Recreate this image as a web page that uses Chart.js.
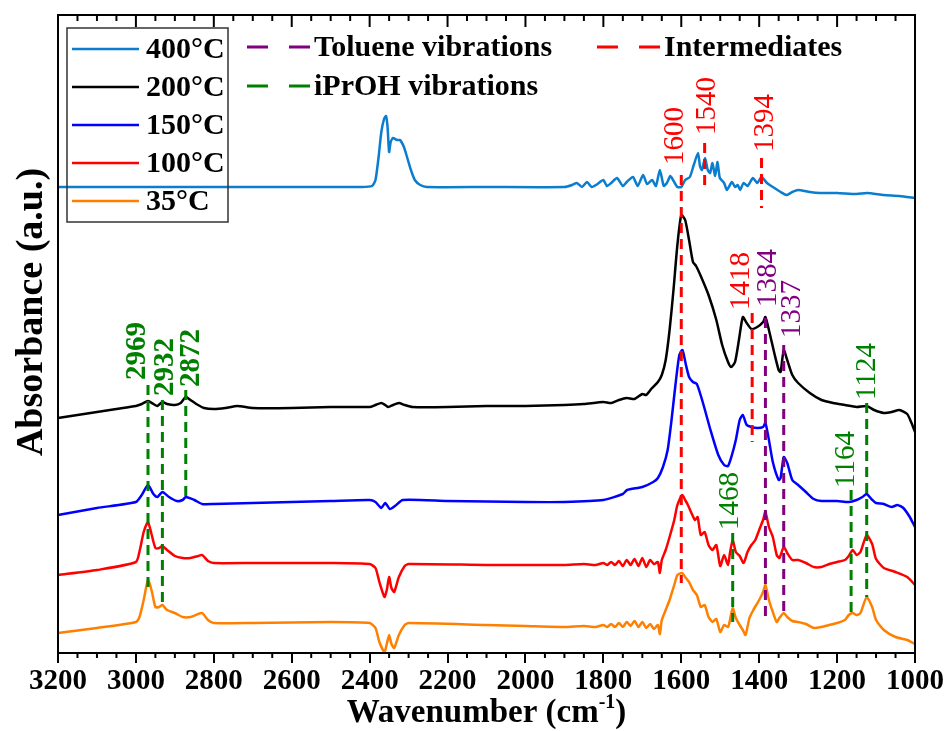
<!DOCTYPE html>
<html>
<head>
<meta charset="utf-8">
<script src="https://cdn.jsdelivr.net/npm/chart.js@4.4.1/dist/chart.umd.min.js"></script>
<style>
  html, body { margin: 0; padding: 0; background: #fff; }
  #c { display: block; }
</style>
</head>
<body>
<canvas id="c" width="950" height="731"></canvas>
<script>
// FTIR spectra, offset stacked (absorbance in arbitrary units)
var labels = ['400°C', '200°C', '150°C', '100°C', '35°C'];
var colors = ['#0b7dcf', '#000000', '#0000ff', '#ff0000', '#ff8000'];

var wn400 = [3200, 2800, 2420, 2394, 2385, 2377, 2370, 2363, 2358, 2354, 2350, 2346, 2340, 2330, 2322, 2312, 2304, 2294, 2284, 2270, 2253, 2100, 1900, 1880, 1868, 1855, 1842, 1830, 1815, 1800, 1791, 1780, 1765, 1750, 1740, 1724, 1712, 1698, 1688, 1675, 1665, 1655, 1645, 1637, 1628, 1621, 1610, 1600, 1590, 1578, 1568, 1557, 1552, 1547, 1539, 1532, 1526, 1520, 1513, 1507, 1501, 1490, 1483, 1470, 1462, 1455, 1449, 1440, 1430, 1416, 1405, 1394, 1380, 1365, 1345, 1329, 1315, 1300, 1270, 1244, 1200, 1150, 1123, 1080, 1040, 1000];
var ab400 = [465, 465, 465, 466, 472, 495, 520, 533, 536, 525, 500, 510, 514, 512, 512, 505, 495, 482, 472, 467, 465, 465, 465, 467, 469, 465, 470, 465, 468, 472, 466, 469, 474, 466, 470, 475, 466, 477, 468, 472, 466, 482, 466, 469, 476, 472, 465, 465, 472, 475, 487, 499, 486, 482, 494, 482, 479, 489, 476, 490, 474, 469, 462, 470, 465, 467, 462, 469, 466, 474, 469, 475, 469, 465, 460, 457, 460, 462, 460, 459, 459, 458, 459, 457, 456, 454];

var wn200 = [3200, 3150, 3100, 3050, 3000, 2985, 2969, 2955, 2945, 2932, 2920, 2900, 2885, 2872, 2860, 2845, 2825, 2800, 2770, 2740, 2700, 2600, 2500, 2400, 2385, 2370, 2360, 2352, 2340, 2325, 2310, 2290, 2200, 2100, 2000, 1900, 1850, 1800, 1780, 1760, 1740, 1720, 1700, 1690, 1675, 1660, 1650, 1640, 1630, 1620, 1610, 1600, 1590, 1580, 1570, 1562, 1550, 1530, 1510, 1495, 1480, 1472, 1462, 1452, 1442, 1432, 1420, 1405, 1390, 1384, 1375, 1360, 1350, 1345, 1337, 1328, 1315, 1300, 1270, 1240, 1210, 1180, 1150, 1124, 1105, 1080, 1060, 1040, 1020, 1010, 1000];
var ab200 = [234, 237, 240, 243, 246, 248, 251, 248, 246, 250, 248, 247, 249, 255, 252, 248, 244, 243, 244, 246, 244, 244, 245, 245, 247, 249, 247, 245, 247, 249, 247, 245, 245, 246, 246, 247, 248, 250, 249, 252, 254, 253, 258, 257, 264, 270, 277, 292, 322, 362, 407, 437, 432, 412, 390, 386, 376, 357, 332, 307, 290, 285, 290, 312, 335, 329, 323, 325, 330, 335, 322, 297, 282, 280, 302, 292, 277, 269, 259, 252, 249, 247, 245, 246, 242, 239, 240, 242, 238, 230, 220];

var wn150 = [3200, 3100, 3000, 2985, 2969, 2955, 2945, 2932, 2915, 2895, 2880, 2872, 2850, 2830, 2800, 2700, 2500, 2400, 2385, 2370, 2360, 2348, 2335, 2315, 2200, 2000, 1900, 1800, 1750, 1739, 1700, 1672, 1660, 1647, 1635, 1625, 1615, 1605, 1597, 1588, 1580, 1570, 1560, 1545, 1525, 1505, 1490, 1480, 1470, 1460, 1450, 1442, 1432, 1420, 1405, 1390, 1384, 1375, 1365, 1350, 1345, 1337, 1328, 1315, 1300, 1280, 1260, 1240, 1200, 1170, 1150, 1135, 1124, 1112, 1100, 1080, 1060, 1045, 1030, 1015, 1000];
var ab150 = [137, 144, 150, 157, 167, 158, 155, 160, 155, 151, 152, 155, 152, 148, 148, 149, 151, 152, 150, 144, 149, 143, 146, 152, 151, 150, 150, 152, 158, 162, 165, 170, 174, 185, 202, 232, 267, 297, 302, 287, 275, 270, 268, 250, 222, 197, 187, 186, 197, 212, 232, 237, 227, 225, 224, 225, 229, 212, 190, 172, 174, 195, 189, 172, 167, 160, 153, 151, 151, 150, 152, 155, 158, 153, 149, 148, 145, 147, 144, 136, 125];

var wn100 = [3200, 3100, 3000, 2990, 2980, 2969, 2960, 2950, 2940, 2932, 2920, 2900, 2880, 2860, 2840, 2830, 2815, 2800, 2700, 2500, 2400, 2385, 2375, 2362, 2356, 2350, 2344, 2337, 2325, 2310, 2300, 2100, 2000, 1900, 1850, 1820, 1800, 1790, 1780, 1770, 1760, 1750, 1740, 1730, 1720, 1710, 1700, 1690, 1680, 1670, 1660, 1655, 1650, 1640, 1630, 1618, 1610, 1598, 1590, 1583, 1575, 1565, 1558, 1550, 1540, 1530, 1520, 1510, 1500, 1490, 1480, 1475, 1468, 1460, 1450, 1440, 1430, 1420, 1410, 1400, 1390, 1384, 1375, 1365, 1355, 1348, 1337, 1328, 1315, 1300, 1280, 1260, 1240, 1220, 1200, 1180, 1170, 1160, 1150, 1140, 1124, 1110, 1100, 1080, 1050, 1020, 1000];
var ab100 = [77, 82, 90, 102, 120, 130, 118, 104, 104, 106, 102, 96, 94, 94, 96, 97, 91, 89, 89, 89, 88, 84, 70, 55, 62, 75, 64, 60, 75, 86, 88, 87, 87, 87, 88, 87, 89, 87, 90, 87, 91, 86, 92, 87, 93, 86, 94, 85, 92, 88, 90, 79, 92, 102, 115, 132, 147, 157, 152, 147, 140, 132, 135, 117, 120, 107, 102, 107, 86, 97, 87, 99, 112, 100, 96, 89, 100, 107, 112, 122, 132, 140, 125, 115, 97, 94, 105, 99, 92, 92, 89, 85, 85, 88, 90, 92, 96, 102, 97, 100, 117, 108, 93, 84, 80, 75, 67];

var wn35 = [3200, 3100, 3000, 2990, 2980, 2969, 2960, 2950, 2940, 2932, 2920, 2900, 2880, 2860, 2840, 2830, 2815, 2800, 2700, 2500, 2400, 2385, 2375, 2362, 2356, 2350, 2344, 2337, 2325, 2310, 2300, 2100, 2000, 1900, 1850, 1820, 1800, 1790, 1780, 1770, 1760, 1750, 1740, 1730, 1720, 1710, 1700, 1690, 1680, 1670, 1660, 1655, 1650, 1640, 1630, 1618, 1610, 1598, 1590, 1580, 1570, 1560, 1550, 1540, 1530, 1520, 1510, 1500, 1490, 1480, 1475, 1468, 1460, 1450, 1442, 1435, 1425, 1415, 1400, 1390, 1384, 1375, 1365, 1355, 1348, 1337, 1328, 1315, 1300, 1280, 1260, 1240, 1220, 1200, 1180, 1170, 1160, 1150, 1140, 1124, 1110, 1100, 1080, 1050, 1020, 1000];
var ab35 = [19, 24, 30, 36, 52, 72, 62, 45, 45, 47, 42, 39, 35, 35, 38, 39, 32, 29, 29, 30, 29, 24, 10, 0, 8, 17, 8, 4, 17, 27, 29, 27, 26, 25, 26, 25, 27, 25, 28, 25, 29, 25, 30, 26, 31, 25, 30, 24, 28, 23, 27, 18, 32, 42, 52, 67, 77, 79, 75, 70, 62, 57, 45, 47, 35, 30, 33, 20, 27, 25, 32, 44, 34, 27, 22, 17, 34, 42, 52, 60, 67, 52, 40, 30, 34, 39, 35, 31, 30, 28, 24, 25, 27, 29, 32, 37, 39, 37, 39, 55, 45, 32, 22, 15, 12, 8];

var seriesWn = [wn400, wn200, wn150, wn100, wn35];
var seriesAb = [ab400, ab200, ab150, ab100, ab35];

// band assignments (dashed markers)
var groupNames = ['Toluene vibrations', 'iPrOH vibrations', 'Intermediates'];
var groupColors = ['#800080', '#008000', '#ff0000'];
var annWn = [2969, 2932, 2872, 1600, 1540, 1394, 1418, 1384, 1337, 1468, 1164, 1124];
var annGroup = [1, 1, 1, 2, 2, 2, 2, 0, 0, 1, 1, 1];

var xTicks = [3200, 3000, 2800, 2600, 2400, 2200, 2000, 1800, 1600, 1400, 1200, 1000];

// where each marker line starts/ends and where its label sits (y in a.u.)
var annLayout = [
  { top: 267, bottom: 60, label: 272, dx: -10, bold: true },
  { top: 252, bottom: 45, label: 256, dx: 3, bold: true },
  { top: 262, bottom: 155, label: 265, dx: 6, bold: true },
  { top: 477, bottom: 69, label: 487, dx: -6 },
  { top: 509, bottom: 467, label: 517, dx: 3 },
  { top: 494, bottom: 444, label: 500, dx: 4 },
  { top: 339, bottom: 210, label: 342, dx: -11 },
  { top: 334, bottom: 30, label: 345, dx: 3 },
  { top: 307, bottom: 37, label: 314, dx: 9 },
  { top: 119, bottom: 30, label: 122, dx: -2 },
  { top: 162, bottom: 39, label: 164, dx: -5 },
  { top: 249, bottom: 55, label: 252, dx: 1 }
];

var FONT = '"Liberation Serif", "Times New Roman", serif';

var datasets = labels.map(function(lab, i) {
  var w = seriesWn[i], a = seriesAb[i], pts = [];
  for (var k = 0; k < Math.min(w.length, a.length); k++) pts.push({ x: w[k], y: a[k] });
  return {
    label: lab, data: pts, borderColor: colors[i], backgroundColor: colors[i],
    borderWidth: 2.5, pointRadius: 0, tension: 0.2, fill: false, clip: false
  };
});

function seg(ctx, x1, y1, x2, y2) {
  ctx.beginPath(); ctx.moveTo(x1, y1); ctx.lineTo(x2, y2); ctx.stroke();
}

var decorPlugin = {
  id: 'decor',
  afterDatasetsDraw: function(chart) {
    var ctx = chart.ctx, xs = chart.scales.x, ys = chart.scales.y;
    ctx.save();
    annWn.forEach(function(wn, i) {
      var L = annLayout[i], px = xs.getPixelForValue(wn), col = groupColors[annGroup[i]];
      ctx.strokeStyle = col; ctx.lineWidth = 3; ctx.setLineDash([10, 6]);
      seg(ctx, px, ys.getPixelForValue(L.top), px, ys.getPixelForValue(L.bottom));
      ctx.setLineDash([]);
      ctx.save();
      ctx.translate(px + L.dx, ys.getPixelForValue(L.label));
      ctx.rotate(-Math.PI / 2);
      ctx.fillStyle = col;
      ctx.font = (L.bold ? 'bold ' : '') + '29px ' + FONT;
      ctx.textAlign = 'left'; ctx.textBaseline = 'middle';
      ctx.fillText(String(wn), 0, 0);
      ctx.restore();
    });
    ctx.restore();
  },
  afterDraw: function(chart) {
    var ctx = chart.ctx, a = chart.chartArea, xs = chart.scales.x;
    ctx.save();
    ctx.strokeStyle = '#000'; ctx.lineWidth = 2;
    ctx.strokeRect(a.left, a.top, a.right - a.left, a.bottom - a.top);
    // minor ticks + inward ticks on the top axis
    for (var v = 1000; v <= 3200; v += 50) {
      var px = xs.getPixelForValue(v), major = v % 200 === 0;
      seg(ctx, px, a.top, px, a.top + (major ? 12 : 6));
      if (!major) seg(ctx, px, a.bottom, px, a.bottom + 5);
    }

    // legend (temperatures)
    ctx.lineWidth = 1.5; ctx.strokeStyle = '#333';
    ctx.strokeRect(67, 28, 161, 194);
    ctx.font = 'bold 30px ' + FONT; ctx.textBaseline = 'middle'; ctx.textAlign = 'left';
    labels.forEach(function(lab, i) {
      var yy = 49 + i * 38;
      ctx.strokeStyle = colors[i]; ctx.lineWidth = 2.5;
      seg(ctx, 72, yy, 139, yy);
      ctx.fillStyle = '#000';
      ctx.fillText(lab, 146, yy + 1);
    });

    // legend (band markers)
    var spots = [[247, 47], [247, 86], [597, 47]];
    groupNames.forEach(function(name, g) {
      var p = spots[g];
      ctx.strokeStyle = groupColors[g]; ctx.lineWidth = 3; ctx.setLineDash([21, 21]);
      seg(ctx, p[0], p[1], p[0] + 63, p[1]);
      ctx.setLineDash([]);
      ctx.fillStyle = '#000';
      ctx.fillText(name, p[0] + 67, p[1] + 1);
    });

    // axis titles
    ctx.fillStyle = '#000';
    ctx.textBaseline = 'alphabetic';
    var big = 'bold 33px ' + FONT, small = 'bold 20px ' + FONT;
    var t1 = 'Wavenumber (cm', t2 = '-1', t3 = ')';
    ctx.font = big; var w1 = ctx.measureText(t1).width, w3 = ctx.measureText(t3).width;
    ctx.font = small; var w2 = ctx.measureText(t2).width;
    var x0 = (a.left + a.right) / 2 - (w1 + w2 + w3) / 2, base = 722;
    ctx.font = big; ctx.fillText(t1, x0, base);
    ctx.font = small; ctx.fillText(t2, x0 + w1, base - 14);
    ctx.font = big; ctx.fillText(t3, x0 + w1 + w2, base);

    ctx.save();
    ctx.translate(42, 312);
    ctx.rotate(-Math.PI / 2);
    ctx.font = 'bold 38px ' + FONT; ctx.textAlign = 'center';
    ctx.fillText('Absorbance (a.u.)', 0, 0);
    ctx.restore();
    ctx.restore();
  }
};

new Chart(document.getElementById('c'), {
  type: 'line',
  data: { datasets: datasets },
  options: {
    responsive: false,
    animation: false,
    layout: { padding: { left: 58, right: 35, top: 15, bottom: 0 } },
    plugins: { legend: { display: false }, tooltip: { enabled: false } },
    scales: {
      x: {
        type: 'linear', reverse: true, min: 1000, max: 3200,
        afterFit: function(s) { s.height = 78; },
        afterBuildTicks: function(s) { s.ticks = xTicks.map(function(v) { return { value: v }; }); },
        ticks: {
          color: '#000', padding: 1, maxRotation: 0, autoSkip: false,
          font: { family: FONT, weight: 'bold', size: 29 },
          callback: function(v) { return String(v); }
        },
        grid: { drawOnChartArea: false, drawTicks: true, tickLength: 10, color: '#000', lineWidth: 2 },
        border: { display: true, color: '#000', width: 2 }
      },
      y: { display: false, min: -1, max: 637 }
    }
  },
  plugins: [decorPlugin]
});
</script>
</body>
</html>
